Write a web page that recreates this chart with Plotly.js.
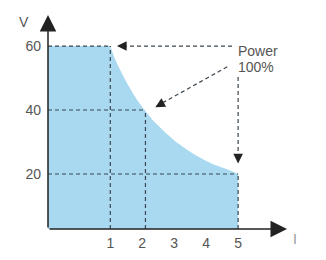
<!DOCTYPE html>
<html><head><meta charset="utf-8">
<script src="https://cdn.plot.ly/plotly-3.0.1.min.js"></script>
<style>html,body{margin:0;padding:0;background:#fff}#c{width:326px;height:260px}</style>
</head><body><div id="c"></div>
<script>
// Operating envelope (current I, voltage V)
const curveI = [1, 1.16, 1.47, 1.83, 2.09, 2.41, 2.72, 3.13, 3.66, 4.18, 4.7, 5];
const curveV = [60, 55.6, 49.4, 43.3, 39.8, 36.0, 33.0, 29.5, 25.9, 23.2, 21.3, 20];
const xTicks = [1, 2, 3, 4, 5];
const yTicks = [20, 40, 60];
const guideI40 = 2.1;           // dashed guide at V=40
const xRange = [-0.95, 6.53];
const yRange = [2.8, 69.7];
const label = ["Power", "100%"];

const font = "Liberation Sans, Arial, sans-serif";
const dashCol = "#3b4650";
const dash = "4px,3px";
const fillCol = "#a8d9f0";

// constant-voltage part (flat at max V up to the first curve point)
const flatTrace = {
  x: [xRange[0], curveI[0]], y: [curveV[0], curveV[0]],
  type: "scatter", mode: "lines", line: {width: 0},
  fill: "tozeroy", fillcolor: fillCol, hoverinfo: "skip", showlegend: false
};
// constant-power part
const curveTrace = {
  x: curveI, y: curveV,
  type: "scatter", mode: "lines",
  line: {width: 0, shape: "spline", smoothing: 0.8},
  fill: "tozeroy", fillcolor: fillCol, hoverinfo: "skip", showlegend: false
};

function seg(x0, y0, x1, y1) {
  return {type: "line", xref: "x", yref: "y", x0, y0, x1, y1,
    line: {color: dashCol, width: 1.2, dash: dash}, layer: "above"};
}
const shapes = [
  seg(xRange[0], 60, 1, 60), seg(1, yRange[0], 1, 60),
  seg(xRange[0], 40, guideI40, 40), seg(guideI40, yRange[0], guideI40, 40),
  seg(xRange[0], 20, 5, 20), seg(5, yRange[0], 5, 20),
  // pointer lines from the label
  seg(4.81, 60, 1.25, 60),
  seg(4.66, 53.5, 2.45, 41.2),
  seg(5, 50.3, 5, 24)
];

function head(x, y, ax, ay) {
  return {x, y, ax, ay, xref: "x", yref: "y", axref: "x", ayref: "y", text: "",
    showarrow: true, arrowhead: 2, arrowsize: 1.6, arrowwidth: 1.2, arrowcolor: "#222", standoff: 0};
}
const annotations = [
  head(1.21, 60, 1.5, 60),
  head(2.41, 40.9, 2.7, 42.5),
  head(5, 23.3, 5, 26.5),
  // axes with arrowheads
  {x: xRange[1], y: yRange[0], ax: xRange[0], ay: yRange[0], xref: "x", yref: "y", axref: "x", ayref: "y",
   text: "", showarrow: true, arrowhead: 2, arrowsize: 2.2, arrowwidth: 1.5, arrowcolor: "#222", standoff: 0},
  {x: xRange[0], y: yRange[1], ax: xRange[0], ay: yRange[0], xref: "x", yref: "y", axref: "x", ayref: "y",
   text: "", showarrow: true, arrowhead: 2, arrowsize: 2.2, arrowwidth: 1.5, arrowcolor: "#222", standoff: 0},
  {x: 4.94, y: 58.3, xref: "x", yref: "y", text: label[0], showarrow: false, xanchor: "left", yanchor: "middle",
   font: {family: font, size: 14, color: "#555"}},
  {x: 4.94, y: 53.3, xref: "x", yref: "y", text: label[1], showarrow: false, xanchor: "left", yanchor: "middle",
   font: {family: font, size: 14, color: "#555"}},
  {x: (24 - 48) / 239, y: (229 - 22.5) / 214, xref: "paper", yref: "paper", text: "V",
   showarrow: false, xanchor: "center", yanchor: "middle", font: {family: font, size: 14, color: "#555"}},
  {x: (295 - 48) / 239, y: (229 - 238.7) / 214, xref: "paper", yref: "paper", text: "I",
   showarrow: false, xanchor: "center", yanchor: "middle", font: {family: font, size: 14, color: "#999"}}
];

const layout = {
  width: 326, height: 260,
  margin: {l: 48, r: 39, t: 15, b: 31, pad: 0},
  paper_bgcolor: "#fff", plot_bgcolor: "#fff",
  showlegend: false,
  xaxis: {range: xRange, tickvals: xTicks, ticktext: xTicks.map(String), showgrid: false, zeroline: false,
    showline: false, ticks: "", ticklabelstandoff: 4, tickfont: {family: font, size: 14, color: "#555"}, fixedrange: true},
  yaxis: {range: yRange, tickvals: yTicks, ticktext: yTicks.map(String), showgrid: false, zeroline: false,
    showline: false, ticks: "", ticklabelstandoff: 6, tickfont: {family: font, size: 14, color: "#555"}, fixedrange: true},
  shapes, annotations
};
Plotly.newPlot("c", [flatTrace, curveTrace], layout, {displayModeBar: false, staticPlot: true});
</script></body></html>
